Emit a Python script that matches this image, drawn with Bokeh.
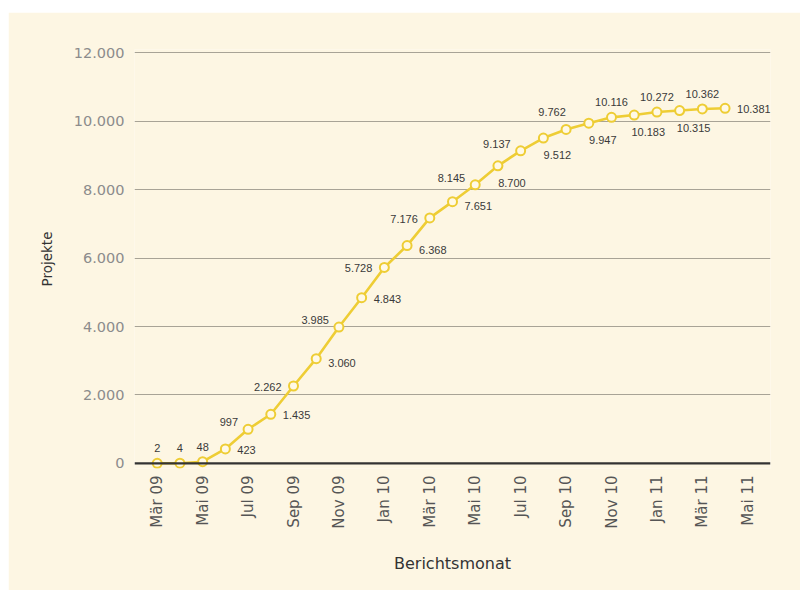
import math
from bokeh.plotting import figure
from bokeh.models import FixedTicker, Span, ColumnDataSource
from bokeh.embed import file_html
from bokeh.resources import INLINE
from bokeh.core.properties import value

# ---- data ----
months = ["Mär 09", "Apr 09", "Mai 09", "Jun 09", "Jul 09", "Aug 09", "Sep 09",
          "Okt 09", "Nov 09", "Dez 09", "Jan 10", "Feb 10", "Mär 10", "Apr 10",
          "Mai 10", "Jun 10", "Jul 10", "Aug 10", "Sep 10", "Okt 10", "Nov 10",
          "Dez 10", "Jan 11", "Feb 11", "Mär 11", "Apr 11"]
projects = [2, 4, 48, 423, 997, 1435, 2262, 3060, 3985, 4843, 5728, 6368, 7176,
            7651, 8145, 8700, 9137, 9512, 9762, 9947, 10116, 10183, 10272, 10315,
            10362, 10381]
tick_labels = ["Mär 09", "Mai 09", "Jul 09", "Sep 09", "Nov 09", "Jan 10", "Mär 10",
               "Mai 10", "Jul 10", "Sep 10", "Nov 10", "Jan 11", "Mär 11", "Mai 11"]
y_ticks = [0, 2000, 4000, 6000, 8000, 10000, 12000]
# label placement codes (style only)
label_pos = ["t", "t", "t", "r", "lu", "r", "l", "rd", "lu", "r", "l", "rd", "l",
             "rd", "lu", "b", "lu", "b", "tl", "b", "t", "b", "t", "b", "t", "r"]

GOLD = "#EECD35"
BG = "#FDF6E3"
FONT = "DejaVu Sans"
LFONT = "Liberation Sans"

def de(v):
    return f"{v:,}".replace(",", ".")

x = list(range(len(months)))

p = figure(width=792, height=578, margin=(12, 0, 0, 8),
           x_range=(-1, 27), y_range=(-150, 12100),
           output_backend="svg", toolbar_location=None,
           min_border_left=126, min_border_right=30,
           min_border_top=37, min_border_bottom=122)
p.background_fill_color = BG
p.border_fill_color = BG
p.outline_line_color = None

# grid
p.xgrid.grid_line_color = None
p.ygrid.ticker = FixedTicker(ticks=y_ticks[1:])
p.ygrid.grid_line_color = "#A8A396"
p.ygrid.grid_line_width = 1.2

# y axis
p.yaxis.ticker = FixedTicker(ticks=y_ticks)
p.yaxis.major_label_overrides = {t: de(t) for t in y_ticks}
p.yaxis.axis_line_color = None
p.yaxis.major_tick_line_color = None
p.yaxis.minor_tick_line_color = None
p.yaxis.major_label_text_color = "#8C8C8C"
p.yaxis.major_label_text_font = FONT
p.yaxis.major_label_text_font_size = "14.5px"
p.yaxis.major_label_standoff = 4
p.yaxis.axis_label = "Projekte"
p.yaxis.axis_label_text_font = FONT
p.yaxis.axis_label_text_font_style = "normal"
p.yaxis.axis_label_text_font_size = "13.5px"
p.yaxis.axis_label_text_color = "#333333"
p.yaxis.axis_label_standoff = 16

# x axis
xt = list(range(0, 27, 2))
p.xaxis.ticker = FixedTicker(ticks=xt)
p.xaxis.major_label_overrides = {t: lab for t, lab in zip(xt, tick_labels)}
p.xaxis.major_label_orientation = math.pi / 2
p.xaxis.axis_line_color = None
p.xaxis.major_tick_line_color = None
p.xaxis.minor_tick_line_color = None
p.xaxis.major_label_text_color = "#555555"
p.xaxis.major_label_text_font = FONT
p.xaxis.major_label_text_font_size = "15px"
p.xaxis.major_label_standoff = 1
p.xaxis.axis_label = "Berichtsmonat"
p.xaxis.axis_label_text_font = FONT
p.xaxis.axis_label_text_font_style = "normal"
p.xaxis.axis_label_text_font_size = "16px"
p.xaxis.axis_label_text_color = "#333333"
p.xaxis.axis_label_standoff = 22

# zero line
p.add_layout(Span(location=0, dimension="width", line_color="#333333", line_width=2.2))

# series
src = ColumnDataSource(dict(x=x, y=projects))
p.line("x", "y", source=src, line_color=GOLD, line_width=2.6)
p.scatter("x", "y", source=src, marker="circle", size=9, fill_color="#FFF9E6",
          line_color=GOLD, line_width=2)

# data labels
offs = {
    "t": (0, -15, "center"),
    "r": (12, 1, "left"),
    "rd": (12, 4, "left"),
    "l": (-12, 1, "right"),
    "lu": (-10, -7, "right"),
    "b": (14, 17, "center"),
    "tl": (-14, -17, "center"),
}
groups = {}
for xi, yi, code in zip(x, projects, label_pos):
    dx, dy, al = offs[code]
    g = groups.setdefault(al, dict(x=[], y=[], t=[], dx=[], dy=[]))
    g["x"].append(xi); g["y"].append(yi); g["t"].append(de(yi))
    g["dx"].append(dx); g["dy"].append(dy)
for al, g in groups.items():
    s = ColumnDataSource(g)
    p.text("x", "y", text="t", source=s, x_offset="dx", y_offset="dy",
           text_align=al, text_baseline="middle", text_font=value(LFONT),
           text_font_size="11px", text_color="#3A3A3A")

open("out.html", "w").write(file_html(p, INLINE))
